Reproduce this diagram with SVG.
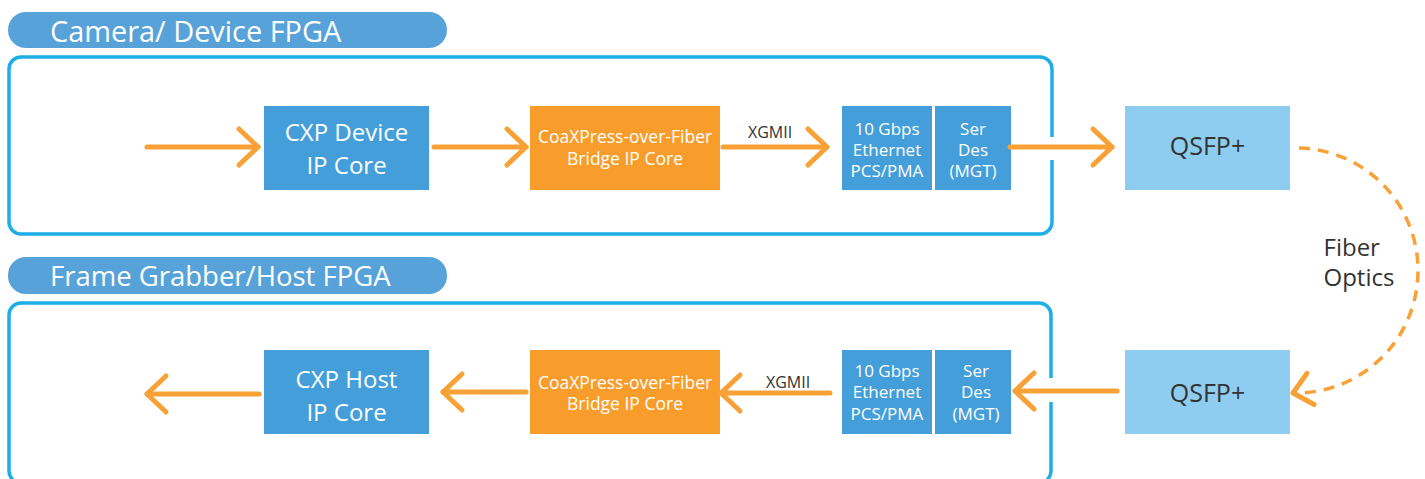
<svg xmlns="http://www.w3.org/2000/svg" width="1425" height="479" viewBox="0 0 1425 479">
<defs>
<style>
.banner{fill:#57a3d9}
.bantxt{font-family:"Open Sans","Liberation Sans",sans-serif;fill:#ffffff}
.frame{fill:none;stroke:#1daee8;stroke-width:3.5}
.blue{fill:#449ed9}
.orange{fill:#f89d2b}
.light{fill:#8ecdf0}
.wt{font-family:"Open Sans","Liberation Sans",sans-serif;fill:#ffffff;text-anchor:middle}
.big{font-size:24px}
.mid{font-size:17.5px}
.sm{font-size:17px}
.dk{font-family:"Open Sans","Liberation Sans",sans-serif;fill:#333333}
.arrow{fill:none;stroke:#f7a136;stroke-width:5;stroke-linecap:round;marker-end:url(#chev)}
.fiber{fill:none;stroke:#f7a136;stroke-width:3.5;stroke-dasharray:11 8;marker-end:url(#chev2)}
</style>
<marker id="chev" markerUnits="userSpaceOnUse" viewBox="-24 -24 28 48" refX="0" refY="0" markerWidth="28" markerHeight="48" orient="auto" overflow="visible">
<path d="M-19,-18 L0,0 L-19,18" fill="none" stroke="#f7a136" stroke-width="5" stroke-linecap="round" stroke-linejoin="round"/>
</marker>
<marker id="chev2" markerUnits="userSpaceOnUse" viewBox="-24 -24 28 48" refX="0" refY="0" markerWidth="28" markerHeight="48" orient="167" overflow="visible">
<path d="M-18,-16 L0,0 L-18,16" fill="none" stroke="#f7a136" stroke-width="5" stroke-linecap="round" stroke-linejoin="round"/>
</marker>
</defs>
<rect width="1425" height="479" fill="#ffffff"/>

<g id="camera-banner">
<rect class="banner" x="8" y="12" width="439" height="36" rx="18"/>
<text class="bantxt" x="50" y="41.5" font-size="28.9">Camera/ Device FPGA</text>
</g>
<g id="camera-fpga">
<path class="frame" d="M1052,160 V222 A12,12 0 0 1 1040,234 H21 A12,12 0 0 1 9,222 V69 A12,12 0 0 1 21,57 H1040 A12,12 0 0 1 1052,69 V137"/>
</g>
<g id="host-banner">
<rect class="banner" x="8" y="257" width="439" height="37" rx="18"/>
<text class="bantxt" x="50" y="286" font-size="27.5">Frame Grabber/Host FPGA</text>
</g>
<g id="host-fpga">
<path class="frame" d="M1051,402 V471 A12,12 0 0 1 1039,483 H21 A12,12 0 0 1 9,471 V315 A12,12 0 0 1 21,303 H1039 A12,12 0 0 1 1051,315 V378"/>
</g>

<g id="cxp-device">
<rect class="blue" x="264" y="106" width="165" height="84"/>
<text class="wt big" x="346.5" y="140.7">CXP Device</text>
<text class="wt big" x="346.5" y="173.5">IP Core</text>
</g>
<g id="bridge-top">
<rect class="orange" x="530" y="106" width="190" height="84"/>
<text class="wt mid" x="625" y="143.3">CoaXPress-over-Fiber</text>
<text class="wt mid" x="625" y="164.5">Bridge IP Core</text>
</g>
<g id="pcs-top">
<rect class="blue" x="842" y="106" width="90" height="84"/>
<text class="wt sm" x="887" y="134.5">10 Gbps</text>
<text class="wt sm" x="887" y="155.5">Ethernet</text>
<text class="wt sm" x="887" y="176.5">PCS/PMA</text>
</g>
<g id="serdes-top">
<rect class="blue" x="935" y="106" width="76" height="84"/>
<text class="wt sm" x="973" y="134.5">Ser</text>
<text class="wt sm" x="973" y="155.5">Des</text>
<text class="wt sm" x="973" y="176.5">(MGT)</text>
</g>
<g id="qsfp-top">
<rect class="light" x="1125" y="106" width="165" height="84"/>
<text class="dk" x="1207.5" y="155" font-size="25" text-anchor="middle">QSFP+</text>
</g>

<g id="cxp-host">
<rect class="blue" x="264" y="350" width="165" height="84"/>
<text class="wt big" x="346.5" y="387.5">CXP Host</text>
<text class="wt big" x="346.5" y="420.5">IP Core</text>
</g>
<g id="bridge-bottom">
<rect class="orange" x="530" y="350" width="190" height="84"/>
<text class="wt mid" x="625" y="388.5">CoaXPress-over-Fiber</text>
<text class="wt mid" x="625" y="410">Bridge IP Core</text>
</g>
<g id="pcs-bottom">
<rect class="blue" x="842" y="350" width="90" height="84"/>
<text class="wt sm" x="887" y="376.5">10 Gbps</text>
<text class="wt sm" x="887" y="398">Ethernet</text>
<text class="wt sm" x="887" y="420">PCS/PMA</text>
</g>
<g id="serdes-bottom">
<rect class="blue" x="935" y="350" width="76" height="84"/>
<text class="wt sm" x="976" y="376.5">Ser</text>
<text class="wt sm" x="976" y="398">Des</text>
<text class="wt sm" x="976" y="420">(MGT)</text>
</g>
<g id="qsfp-bottom">
<rect class="light" x="1125" y="350" width="165" height="84"/>
<text class="dk" x="1207.5" y="401.5" font-size="25" text-anchor="middle">QSFP+</text>
</g>

<g id="connectors">
<line class="arrow" x1="147" y1="147" x2="258" y2="147"/>
<line class="arrow" x1="434" y1="147" x2="526" y2="147"/>
<line class="arrow" x1="723" y1="147" x2="827" y2="147"/>
<line class="arrow" x1="1010" y1="147" x2="1112" y2="147"/>
<line class="arrow" x1="1117" y1="391" x2="1015" y2="391"/>
<line class="arrow" x1="830" y1="393" x2="721" y2="393"/>
<line class="arrow" x1="526" y1="392" x2="443" y2="392"/>
<line class="arrow" x1="259" y1="394" x2="147" y2="394"/>
<path class="fiber" d="M1299,148 A122,122.5 0 0 1 1293,393"/>
<text class="dk" x="770" y="137.5" font-size="16" text-anchor="middle">XGMII</text>
<text class="dk" x="788" y="387.5" font-size="16" text-anchor="middle">XGMII</text>
<text class="dk" x="1323.5" y="255.5" font-size="24">Fiber</text>
<text class="dk" x="1323.5" y="286" font-size="24">Optics</text>
</g>
</svg>
